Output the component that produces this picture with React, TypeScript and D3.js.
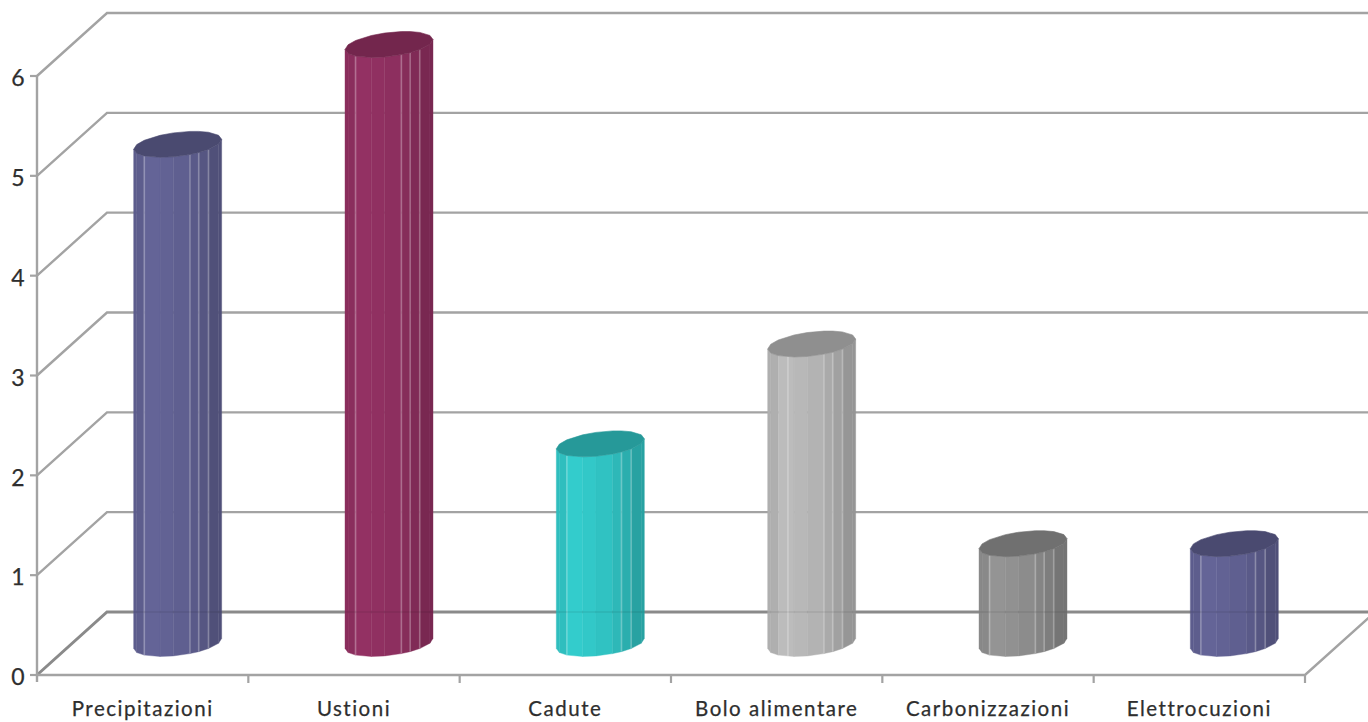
import React from "react";
import * as d3 from "d3";

const categories = ["Precipitazioni", "Ustioni", "Cadute", "Bolo alimentare", "Carbonizzazioni", "Elettrocuzioni"];
const values = [5, 6, 2, 3, 1, 1];
const yTicks = [0, 1, 2, 3, 4, 5, 6];
const sideLight = ["#646497", "#933163", "#33cccc", "#bcbcbc", "#949494", "#646497"];
const sideDark = ["#4c4c73", "#73264d", "#269999", "#8e8e8e", "#6e6e6e", "#4c4c73"];
const topFill = ["#4a4a70", "#73264d", "#269999", "#8f8f8f", "#707070", "#4a4a70"];
const facetStops = [0, 0.035, 0.12, 0.3, 0.45, 0.64, 0.74, 0.85, 0.965, 1];
const facetTones = [0.28, 0.28, 0, 0.08, 0.2, 0.4, 0.58, 0.82, 0.82];
const ridgesByColumn = [
  [0.12, 0.64, 0.74, 0.85],
  [0.12, 0.64, 0.74, 0.85],
  [0.12, 0.74, 0.85],
  [0.23, 0.64, 0.74, 0.85],
  [0.12, 0.64, 0.74, 0.85],
  [0.12, 0.74, 0.85],
];

const WIDTH = 1368;
const HEIGHT = 722;
const DEPTH_X = 70;
const DEPTH_Y = -63;
const RADIUS_X = 44;
const RADIUS_Y = 12;
const TILT = 5;
const LINE_COLOR = "#a3a3a3";
const TEXT_COLOR = "#2e2e2e";

const y = d3.scaleLinear().domain([0, 6]).range([675, 76]);
const x = d3.scaleLinear().domain([0, categories.length]).range([37, 1305]);
const line = d3.line<[number, number]>();
const labelFont = "Lato, 'Open Sans', sans-serif";

// Point on a column's elliptical rim; u runs left to right, side +1 is the near half, -1 the far half.
function rimPoint(cx: number, cy: number, u: number, side = 1): [number, number] {
  const c = 2 * u - 1;
  return [cx + RADIUS_X * c, cy - TILT * c + side * RADIUS_Y * Math.sqrt(Math.max(0, 1 - c * c))];
}

function topOutline(cx: number, cy: number): [number, number][] {
  const near = facetStops.map((u) => rimPoint(cx, cy, u, 1));
  const far = facetStops
    .slice(1, -1)
    .reverse()
    .map((u) => rimPoint(cx, cy, u, -1));
  return [...near, ...far];
}

function Column({ index }: { index: number }) {
  const cx = x(index + 0.5) + DEPTH_X / 2;
  const top = y(values[index]) + DEPTH_Y / 2;
  const bottom = y(0) + DEPTH_Y / 2;
  const shade = d3.interpolateRgb(sideLight[index], sideDark[index]);
  const floorY = y(0) + DEPTH_Y;
  return (
    <g>
      {facetStops.slice(0, -1).map((u, i) => {
        const v = facetStops[i + 1];
        const pts = [rimPoint(cx, top, u), rimPoint(cx, top, v), rimPoint(cx, bottom, v), rimPoint(cx, bottom, u)];
        const fill = shade(facetTones[i]);
        return <path key={u} d={line(pts) + "Z"} fill={fill} stroke={fill} strokeWidth={0.4} />;
      })}
      {ridgesByColumn[index].map((u) => {
        const a = rimPoint(cx, top, u);
        const b = rimPoint(cx, bottom, u);
        return <line key={u} x1={a[0]} y1={a[1]} x2={b[0]} y2={b[1]} stroke="#fff" strokeOpacity={0.24} strokeWidth={1.8} />;
      })}
      <path d={line(topOutline(cx, top)) + "Z"} fill={topFill[index]} stroke={topFill[index]} strokeWidth={0.6} strokeLinejoin="round" />
      {/* The floor's back edge shows faintly through the column */}
      <line x1={cx - RADIUS_X} x2={cx + RADIUS_X} y1={floorY} y2={floorY} stroke="#000" strokeOpacity={0.06} strokeWidth={2} />
    </g>
  );
}

export default function App() {
  const backLeft = x(0) + DEPTH_X;
  const floorRightX = x(categories.length);
  return (
    <svg
      width={WIDTH}
      height={HEIGHT}
      viewBox={`0 0 ${WIDTH} ${HEIGHT}`}
      style={{ position: "absolute", left: 0, top: 0, display: "block", background: "#fff" }}
    >
      {/* Back wall and side wall gridlines */}
      {yTicks.map((t) => (
        <path
          key={t}
          d={line([[x(0), y(t)], [backLeft, y(t) + DEPTH_Y], [WIDTH + 10, y(t) + DEPTH_Y]]) as string}
          fill="none"
          stroke={t === 0 ? "#8a8a8a" : LINE_COLOR}
          strokeWidth={t === 0 ? 3 : 2.4}
        />
      ))}
      {/* Front and right edges of the floor */}
      <path
        d={line([[x(0), y(0)], [floorRightX, y(0)], [floorRightX + DEPTH_X, y(0) + DEPTH_Y]]) as string}
        fill="none"
        stroke={LINE_COLOR}
        strokeWidth={2.4}
      />
      <line x1={x(0)} x2={x(0)} y1={y(6)} y2={y(0) + 7} stroke={LINE_COLOR} strokeWidth={2.4} />
      {yTicks.map((t) => (
        <g key={t}>
          <line x1={x(0) - 7} x2={x(0)} y1={y(t)} y2={y(t)} stroke={LINE_COLOR} strokeWidth={2.2} />
          <text
            x={18}
            y={y(t) + 2}
            dy="0.36em"
            textAnchor="middle"
            fontFamily={labelFont}
            fontSize={23}
            fill={TEXT_COLOR}
            stroke={TEXT_COLOR}
            strokeWidth={0.25}
          >
            {t}
          </text>
        </g>
      ))}
      {d3.range(1, categories.length + 1).map((i) => (
        <line key={i} x1={x(i)} x2={x(i)} y1={y(0)} y2={y(0) + 8} stroke={LINE_COLOR} strokeWidth={2.2} />
      ))}
      {categories.map((_, i) => (
        <Column key={i} index={i} />
      ))}
      {categories.map((c, i) => (
        <text
          key={c}
          x={x(i + 0.5)}
          y={716}
          textAnchor="middle"
          fontFamily={labelFont}
          fontSize={20.5}
          letterSpacing={1.5}
          fill={TEXT_COLOR}
          stroke={TEXT_COLOR}
          strokeWidth={0.25}
        >
          {c}
        </text>
      ))}
    </svg>
  );
}
